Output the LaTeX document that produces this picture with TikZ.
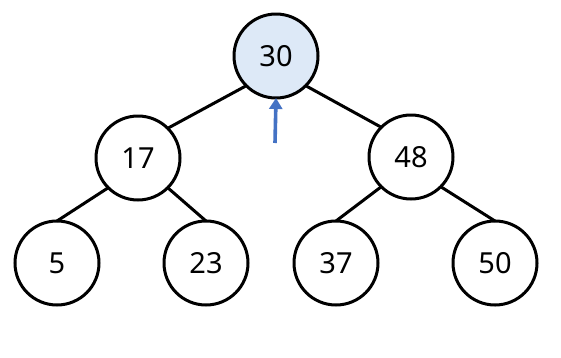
\documentclass[tikz,border=0pt]{standalone}
\usepackage{fontspec}
\setmainfont{Noto Sans}
\usetikzlibrary{arrows.meta}
\definecolor{rootfill}{RGB}{221,233,247}
\definecolor{arrowblue}{RGB}{68,114,196}
\begin{document}
\begin{tikzpicture}[x=1pt,y=-1pt,
  tnode/.style={circle,draw=black,line width=3pt,minimum size=84pt,inner sep=0pt,outer sep=0pt,font=\fontsize{29}{32}\selectfont,fill=white},
  edge/.style={draw=black,line width=3pt}]
\useasboundingbox (0,0) rectangle (561,357);
\node[tnode,fill=rootfill] (n30) at (276,56) {30};
\node[tnode] (n17) at (138,158) {17};
\node[tnode] (n48) at (411,157) {48};
\node[tnode] (n5) at (57,263) {5};
\node[tnode] (n23) at (206,263) {23};
\node[tnode] (n37) at (336,263) {37};
\node[tnode] (n50) at (495,263) {50};
\draw[edge] (n30.south west) -- (n17.north east);
\draw[edge] (n30.south east) -- (n48.north west);
\draw[edge] (n17.south west) -- (n5.north);
\draw[edge] (n17.south east) -- (n23.north);
\draw[edge] (n48.south west) -- (n37.north);
\draw[edge] (n48.south east) -- (n50.north);
\coordinate (atail) at (275,143);
\draw[arrowblue,line width=3.6pt,-{Triangle[length=11pt,width=13pt]}] (atail) -- (n30.south);
\end{tikzpicture}
\end{document}
